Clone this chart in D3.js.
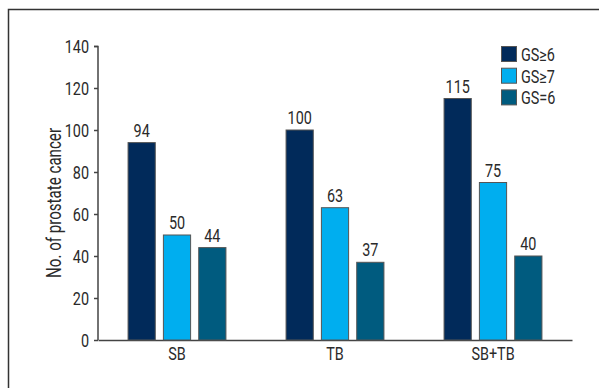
<!DOCTYPE html>
<html><head><meta charset="utf-8">
<script src="https://cdn.jsdelivr.net/npm/d3@7"></script>
<style>body{margin:0;background:#fff}svg{display:block}text{font-family:Roboto,"Liberation Sans",sans-serif;fill:#2a2a2a}</style>
</head><body><svg id="c" width="599" height="388"></svg>
<script>
const categories = ["SB", "TB", "SB+TB"];
const seriesNames = ["GS\u22656", "GS\u22657", "GS=6"];
const gs6plus = [94, 100, 115];
const gs7plus = [50, 63, 75];
const gs6 = [44, 37, 40];
const yTicks = [0, 20, 40, 60, 80, 100, 120, 140];
const colors = ["#012a5a", "#00aeef", "#005b7f"];

const SX = 0.8;
function condense(sel) {
  sel.each(function() {
    const t = d3.select(this);
    const x = +t.attr("x") || 0, y = +t.attr("y") || 0;
    t.attr("x", 0).attr("y", 0).attr("transform", `translate(${x},${y}) scale(${SX},1)`);
  });
}

const series = [gs6plus, gs7plus, gs6];
const svg = d3.select("#c");
svg.append("rect").attr("x",8.5).attr("y",9.5).attr("width",620).attr("height",420)
  .attr("fill","none").attr("stroke","#333").attr("stroke-width",1.5);

const x0 = d3.scaleBand().domain(categories).range([98, 572]).padding(0);
const x1 = d3.scaleBand().domain(d3.range(3)).range([-53, 53]).paddingInner(0.23).paddingOuter(0.115);
const y = d3.scaleLinear().domain([0, 140]).range([340, 46]);

const yAxis = svg.append("g").attr("transform","translate(98,0)")
  .call(d3.axisLeft(y).tickValues(yTicks).tickSize(4).tickPadding(5));
yAxis.selectAll("path,line").attr("stroke","#444").attr("stroke-width",1.5);
yAxis.selectAll("text").attr("font-size",18).attr("dy","0.36em").call(condense);
yAxis.select(".domain").attr("d","M-4,46.5H0V340");

const xAxis = svg.append("g").attr("transform","translate(0,340)")
  .call(d3.axisBottom(x0).tickSize(0).tickPadding(7));
xAxis.selectAll("path").attr("stroke","#444").attr("stroke-width",1.5);
xAxis.selectAll("text").attr("font-size",18).attr("dy","0.71em").call(condense);

const g = svg.append("g");
categories.forEach((c, ci) => {
  series.forEach((s, si) => {
    const bx = x0(c) + x0.bandwidth()/2 + x1(si);
    g.append("rect").attr("x", bx).attr("y", y(s[ci])).attr("width", x1.bandwidth())
      .attr("height", y(0) - y(s[ci])).attr("fill", colors[si]).attr("stroke","#555").attr("stroke-width",1);
    g.append("text").attr("x", bx + x1.bandwidth()/2).attr("y", y(s[ci]) - 6)
      .attr("text-anchor","middle").attr("font-size",18).text(s[ci]).call(condense);
  });
});

svg.append("text").attr("transform","translate(61,203) rotate(-90)")
  .attr("text-anchor","middle").attr("font-size",20)
  .attr("textLength",150).attr("lengthAdjust","spacingAndGlyphs").text("No. of prostate cancer");

const leg = svg.append("g");
seriesNames.forEach((n, i) => {
  leg.append("rect").attr("x",501.5).attr("y",46.5 + i*21.7).attr("width",15).attr("height",15)
    .attr("fill",colors[i]).attr("stroke","#555").attr("stroke-width",1);
  leg.append("text").attr("x",521).attr("y",61 + i*21.7).attr("font-size",18).text(n).call(condense);
});
</script></body></html>
